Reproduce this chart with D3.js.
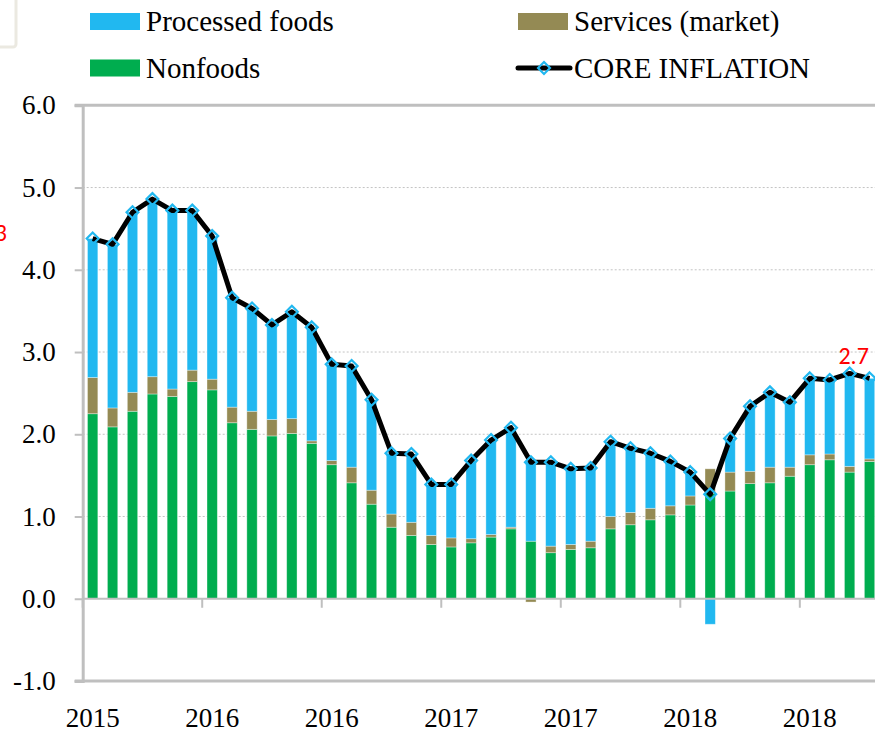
<!DOCTYPE html>
<html>
<head>
<meta charset="utf-8">
<script src="https://cdn.jsdelivr.net/npm/d3@7"></script>
<style>
  html, body { margin: 0; padding: 0; background: #fff; overflow: hidden; }
  svg { display: block; }
  .serif { font-family: "Liberation Serif", "DejaVu Serif", serif; }
</style>
</head>
<body>
<svg id="chart" width="875" height="732"></svg>
<script>
// months, Jul 2015 .. Oct 2018
const categories = [
  "2015-07","2015-08","2015-09","2015-10","2015-11","2015-12",
  "2016-01","2016-02","2016-03","2016-04","2016-05","2016-06",
  "2016-07","2016-08","2016-09","2016-10","2016-11","2016-12",
  "2017-01","2017-02","2017-03","2017-04","2017-05","2017-06",
  "2017-07","2017-08","2017-09","2017-10","2017-11","2017-12",
  "2018-01","2018-02","2018-03","2018-04","2018-05","2018-06",
  "2018-07","2018-08","2018-09","2018-10"
];
const nonfoods = [
  2.25, 2.09, 2.28, 2.49, 2.46, 2.64, 2.54, 2.14, 2.06, 1.98,
  2.01, 1.89, 1.63, 1.41, 1.15, 0.87, 0.77, 0.66, 0.63, 0.68,
  0.75, 0.85, 0.70, 0.56, 0.60, 0.62, 0.85, 0.90, 0.96, 1.02,
  1.14, 1.28, 1.31, 1.40, 1.41, 1.49, 1.63, 1.69, 1.54, 1.67
];
const services = [
  0.44, 0.23, 0.23, 0.21, 0.09, 0.14, 0.13, 0.19, 0.22, 0.20,
  0.18, 0.03, 0.05, 0.19, 0.17, 0.16, 0.16, 0.11, 0.11, 0.05,
  0.03, 0.02, -0.04, 0.08, 0.06, 0.08, 0.15, 0.15, 0.14, 0.11,
  0.11, 0.30, 0.23, 0.15, 0.19, 0.11, 0.12, 0.07, 0.07, 0.03
];
const processed = [
  1.69, 1.99, 2.19, 2.16, 2.17, 1.94, 1.74, 1.33, 1.25, 1.15,
  1.30, 1.38, 1.17, 1.23, 1.10, 0.74, 0.83, 0.62, 0.65, 0.95,
  1.15, 1.21, 0.97, 1.02, 0.92, 0.89, 0.91, 0.78, 0.67, 0.54,
  0.29, -0.31, 0.41, 0.79, 0.91, 0.79, 0.93, 0.90, 1.13, 0.98
];
const core = [
  4.38, 4.31, 4.70, 4.86, 4.72, 4.72, 4.41, 3.66, 3.53, 3.33,
  3.49, 3.30, 2.85, 2.83, 2.42, 1.77, 1.76, 1.39, 1.39, 1.68,
  1.93, 2.08, 1.66, 1.66, 1.58, 1.59, 1.91, 1.83, 1.77, 1.67,
  1.54, 1.27, 1.95, 2.34, 2.51, 2.39, 2.68, 2.66, 2.74, 2.68
];
const yTicks = [-1, 0, 1, 2, 3, 4, 5, 6];
const tickEvery = 6;

const colors = { nonfoods: "#00ad4f", services: "#948a54", processed: "#21b8f0" };

const svg = d3.select("#chart");
const width = 875, height = 732;
const plotLeft = 82.7, step = 19.92;
const plotTop = 105.3, plotBottom = 681;

const x = d3.scaleBand()
  .domain(categories)
  .range([plotLeft, plotLeft + step * categories.length])
  .paddingInner(0.48)
  .paddingOuter(0.24);

const y = d3.scaleLinear().domain([-1, 6]).range([plotBottom, plotTop]);

// cropped box at top left
svg.append("rect")
  .attr("x", -12).attr("y", -12)
  .attr("width", 28).attr("height", 59)
  .attr("rx", 3)
  .attr("fill", "none")
  .attr("stroke", "#ebe9e1")
  .attr("stroke-width", 3);

// dotted gridlines
svg.append("g")
  .selectAll("line")
  .data(yTicks.filter(d => d > 0 && d < 6))
  .join("line")
  .attr("x1", plotLeft).attr("x2", width)
  .attr("y1", d => y(d)).attr("y2", d => y(d))
  .attr("stroke", "#c4c4c4")
  .attr("stroke-width", 1)
  .attr("stroke-dasharray", "2,2");

// stacked bars
const table = categories.map((c, i) => ({
  cat: c, nonfoods: nonfoods[i], services: services[i], processed: processed[i]
}));
const stack = d3.stack()
  .keys(["nonfoods", "services", "processed"])
  .offset(d3.stackOffsetDiverging);

svg.append("g")
  .selectAll("g")
  .data(stack(table))
  .join("g")
  .attr("fill", d => colors[d.key])
  .selectAll("rect")
  .data(d => d)
  .join("rect")
  .attr("x", d => x(d.data.cat))
  .attr("width", x.bandwidth())
  .attr("y", d => y(Math.max(d[0], d[1])))
  .attr("height", d => Math.abs(y(d[0]) - y(d[1])))
  .attr("stroke", "rgba(255,255,255,0.45)")
  .attr("stroke-width", 0.8);

// plot frame lines (top, bottom) and left axis
const axisGray = "#bfbfbf";
svg.append("line")
  .attr("x1", plotLeft - 8).attr("x2", width)
  .attr("y1", y(6)).attr("y2", y(6))
  .attr("stroke", axisGray).attr("stroke-width", 3);
svg.append("line")
  .attr("x1", plotLeft - 8).attr("x2", width)
  .attr("y1", y(-1)).attr("y2", y(-1))
  .attr("stroke", axisGray).attr("stroke-width", 3);

const yAxis = svg.append("g")
  .attr("transform", `translate(${plotLeft},0)`)
  .call(d3.axisLeft(y).tickValues(yTicks).tickFormat(d => d.toFixed(1)).tickSize(8).tickPadding(19));
yAxis.select(".domain").attr("stroke", axisGray).attr("stroke-width", 3);
yAxis.selectAll(".tick line").attr("stroke", axisGray).attr("stroke-width", 2);
yAxis.selectAll("text")
  .attr("class", "serif")
  .attr("font-size", 27)
  .attr("fill", "#000");

// category axis at zero
svg.append("line")
  .attr("x1", plotLeft).attr("x2", width)
  .attr("y1", y(0)).attr("y2", y(0))
  .attr("stroke", axisGray).attr("stroke-width", 2);

const tickCats = categories.filter((c, i) => i % tickEvery === 0);
const gap = (x.step() - x.bandwidth()) / 2;
svg.append("g")
  .selectAll("line")
  .data(tickCats)
  .join("line")
  .attr("x1", d => x(d) - gap).attr("x2", d => x(d) - gap)
  .attr("y1", y(0)).attr("y2", y(0) + 9)
  .attr("stroke", axisGray).attr("stroke-width", 2);

const xAxis = svg.append("g")
  .attr("transform", `translate(0,${plotBottom + 24})`)
  .call(d3.axisBottom(x).tickValues(tickCats).tickFormat(d => d.slice(0, 4)).tickSize(0));
xAxis.select(".domain").remove();
xAxis.selectAll("text")
  .attr("class", "serif")
  .attr("font-size", 27)
  .attr("fill", "#000");

// core inflation line
const lineGen = d3.line()
  .x((d, i) => x(categories[i]) + x.bandwidth() / 2)
  .y(d => y(d));

svg.append("path")
  .datum(core)
  .attr("fill", "none")
  .attr("stroke", "#000")
  .attr("stroke-width", 5)
  .attr("stroke-linejoin", "round")
  .attr("d", lineGen);

const diamond = d3.symbol().type(d3.symbolDiamond2).size(90);
svg.append("g")
  .selectAll("path")
  .data(core)
  .join("path")
  .attr("transform", (d, i) => `translate(${x(categories[i]) + x.bandwidth() / 2},${y(d)})`)
  .attr("d", diamond)
  .attr("fill", "none")
  .attr("stroke", colors.processed)
  .attr("stroke-width", 2.2);

// value labels in red
const lastLabelIdx = 38;
svg.append("text")
  .attr("x", x(categories[lastLabelIdx]) + x.bandwidth() / 2 + 4)
  .attr("y", y(core[lastLabelIdx]) - 9)
  .attr("text-anchor", "middle")
  .attr("font-family", "Carlito, 'Liberation Sans', sans-serif")
  .attr("font-size", 24)
  .attr("fill", "#ff0000")
  .text(d3.format(".1f")(core[lastLabelIdx]));

svg.append("text")
  .attr("x", 7)
  .attr("y", 241)
  .attr("text-anchor", "end")
  .attr("font-family", "Carlito, 'Liberation Sans', sans-serif")
  .attr("font-size", 24)
  .attr("fill", "#ff0000")
  .text("4.3");

// legend
const legend = [
  { label: "Processed foods", key: "processed", x: 90, y: 21.5 },
  { label: "Services (market)", key: "services", x: 518, y: 21.5 },
  { label: "Nonfoods", key: "nonfoods", x: 90, y: 68 },
  { label: "CORE INFLATION", key: "core", x: 518, y: 68 }
];
const lg = svg.append("g").selectAll("g").data(legend).join("g")
  .attr("transform", d => `translate(${d.x},${d.y})`);

lg.filter(d => d.key !== "core").append("rect")
  .attr("x", 0).attr("y", -8.5)
  .attr("width", 50).attr("height", 17)
  .attr("fill", d => colors[d.key]);

const lineItem = lg.filter(d => d.key === "core");
lineItem.append("line")
  .attr("x1", 0).attr("x2", 52).attr("y1", 0).attr("y2", 0)
  .attr("stroke", "#000").attr("stroke-width", 5).attr("stroke-linecap", "round");
lineItem.append("path")
  .attr("transform", "translate(26,0)")
  .attr("d", diamond)
  .attr("fill", "none")
  .attr("stroke", colors.processed)
  .attr("stroke-width", 2.2);

lg.append("text")
  .attr("class", "serif")
  .attr("x", 56)
  .attr("y", 9.5)
  .attr("font-size", 29)
  .attr("fill", "#000")
  .text(d => d.label);
</script>
</body>
</html>
